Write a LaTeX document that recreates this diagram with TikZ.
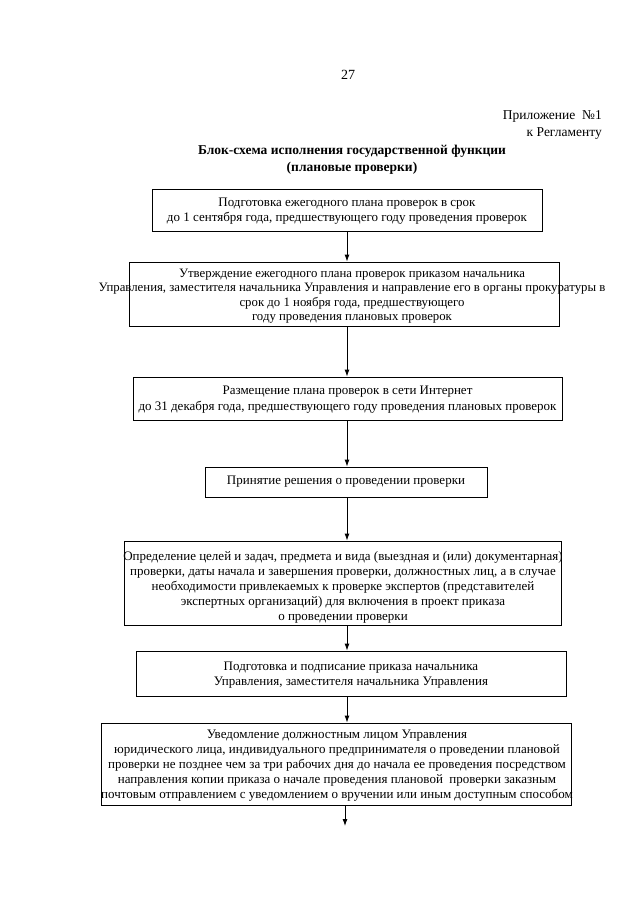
\documentclass[tikz,border=0pt]{standalone}
\usepackage{fontspec}
\setmainfont{Liberation Serif}
\usetikzlibrary{arrows.meta}
\begin{document}
\begin{tikzpicture}[x=1pt,y=-1pt,
  box/.style={draw, line width=0.9pt, inner sep=0pt, fill=none},
  txt/.style={align=center, inner sep=0pt, font=\fontsize{13}{15.5}\selectfont},
  tight/.style={font=\fontsize{13}{15}\selectfont},
  arr/.style={line width=0.9pt, -{Latex[length=7pt,width=5pt]}}]
\useasboundingbox (0,0) rectangle (640,905);
\fill[white] (0,0) rectangle (640,905);
% header
\node[font=\fontsize{14}{16}\selectfont, inner sep=0pt] (pg) at (348,75) {27};
\node[font=\fontsize{13.5}{17}\selectfont, inner sep=0pt, anchor=north east, align=right] (app) at (602,110) {Приложение \ №1\\к Регламенту};
\node[font=\bfseries\fontsize{13.5}{16.5}\selectfont, inner sep=0pt, align=center] (title) at (352,160) {Блок-схема исполнения государственной функции\\(плановые проверки)};
% boxes
\node[box, minimum width=390pt, minimum height=42pt] (b1) at (347,210) {};
\node[txt] (t1) at (347,211) {Подготовка ежегодного плана проверок в срок\\до 1 сентября года, предшествующего году проведения проверок};
\node[box, minimum width=430pt, minimum height=64pt] (b2) at (344,294) {};
\node[txt, font=\fontsize{12.8}{14.5}\selectfont] (t2) at (352,296) {Утверждение ежегодного плана проверок приказом начальника\\Управления, заместителя начальника Управления и направление его в органы прокуратуры в\\срок до 1 ноября года, предшествующего\\году проведения плановых проверок};
\node[box, minimum width=429pt, minimum height=43pt] (b3) at (347.5,398.5) {};
\node[txt] (t3) at (347.5,399.5) {Размещение плана проверок в сети Интернет\\до 31 декабря года, предшествующего году проведения плановых проверок};
\node[box, minimum width=282pt, minimum height=30pt] (b4) at (346,482) {};
\node[txt] (t4) at (346,482) {Принятие решения о проведении проверки};
\node[box, minimum width=437pt, minimum height=84pt] (b5) at (342.5,583) {};
\node[txt, tight] (t5) at (343,587) {Определение целей и задач, предмета и вида (выездная и (или) документарная)\\проверки, даты начала и завершения проверки, должностных лиц, а в случае\\необходимости привлекаемых к проверке экспертов (представителей\\экспертных организаций) для включения в проект приказа\\о проведении проверки};
\node[box, minimum width=430pt, minimum height=45pt] (b6) at (351,673.5) {};
\node[txt] (t6) at (351,675) {Подготовка и подписание приказа начальника\\Управления, заместителя начальника Управления};
\node[box, minimum width=470pt, minimum height=82pt] (b7) at (336,764) {};
\node[txt, tight] (t7) at (337,766) {Уведомление должностным лицом Управления\\юридического лица, индивидуального предпринимателя о проведении плановой\\проверки не позднее чем за три рабочих дня до начала ее проведения посредством\\направления копии приказа о начале проведения плановой \ проверки заказным\\почтовым отправлением с уведомлением о вручении или иным доступным способом};
\coordinate (end) at (345,826);
% connectors
\draw[arr] (b1.south) -- (b1.south |- b2.north);
\draw[arr] (b2.south -| b1.south) -- (b3.north -| b1.south);
\draw[arr] (b3.south -| b1.south) -- (b4.north -| b1.south);
\draw[arr] (b4.south -| b1.south) -- (b5.north -| b1.south);
\draw[arr] (b5.south -| b1.south) -- (b6.north -| b1.south);
\draw[arr] (b6.south -| b1.south) -- (b7.north -| b1.south);
\draw[arr] (b7.south -| end) -- (end);
\end{tikzpicture}
\end{document}
